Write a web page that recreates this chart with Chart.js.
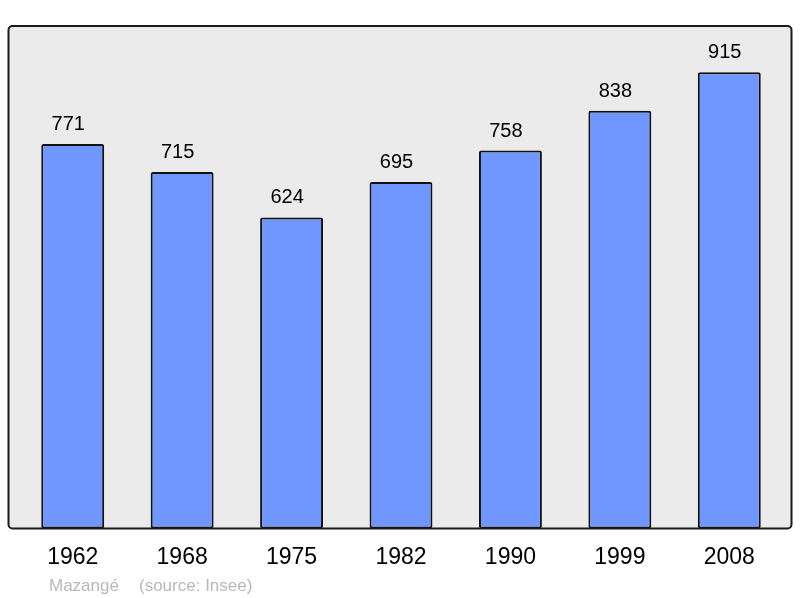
<!DOCTYPE html>
<html>
<head>
<meta charset="utf-8">
<script src="https://cdn.jsdelivr.net/npm/chart.js@4"></script>
<style>
  html, body { margin: 0; padding: 0; background: #fff; }
  #wrap { width: 800px; height: 598px; }
</style>
</head>
<body>
<div id="wrap"><canvas id="popChart" width="800" height="598"></canvas></div>
<script>
const years = ["1962", "1968", "1975", "1982", "1990", "1999", "2008"];
const population = [771, 715, 624, 695, 758, 838, 915];
const commune = "Mazangé";
const source = "(source: Insee)";

// grey panel behind the bars, outline drawn on top
const panelPlugin = {
  id: 'panel',
  beforeDatasetsDraw(chart) {
    const { ctx, chartArea } = chart;
    ctx.save();
    ctx.beginPath();
    ctx.roundRect(chartArea.left - 9.5, chartArea.top, chartArea.right - chartArea.left + 17, chartArea.bottom - chartArea.top, 4);
    ctx.fillStyle = '#ebebeb';
    ctx.fill();
    ctx.restore();
  },
  afterDatasetsDraw(chart) {
    const { ctx, chartArea } = chart;
    ctx.save();
    ctx.beginPath();
    ctx.roundRect(chartArea.left - 9.5, chartArea.top, chartArea.right - chartArea.left + 17, chartArea.bottom - chartArea.top, 4);
    ctx.lineWidth = 2;
    ctx.strokeStyle = '#1a1a1a';
    ctx.stroke();

    // values above bars
    const meta = chart.getDatasetMeta(0);
    ctx.font = '20px "Liberation Sans", Arial, sans-serif';
    ctx.fillStyle = '#000';
    ctx.textAlign = 'center';
    ctx.textBaseline = 'alphabetic';
    meta.data.forEach((bar, i) => {
      ctx.fillText(String(population[i]), bar.x - 4.5, bar.y - 14);
    });

    // footer
    ctx.font = '17px "Liberation Sans", Arial, sans-serif';
    ctx.fillStyle = '#b8b8b8';
    ctx.textAlign = 'left';
    ctx.fillText(commune, 49, 591);
    ctx.fillText(source, 139, 591);
    ctx.restore();
  }
};

new Chart(document.getElementById('popChart'), {
  type: 'bar',
  data: {
    labels: years,
    datasets: [{
      data: population,
      backgroundColor: '#7097ff',
      borderColor: '#111',
      borderWidth: 2,
      borderRadius: 2,
      borderSkipped: false,
      categoryPercentage: 1,
      barPercentage: 0.575
    }]
  },
  options: {
    responsive: false,
    animation: false,
    layout: { padding: { left: 18, right: 16, top: 26, bottom: 12 } },
    plugins: {
      legend: { display: false },
      tooltip: { enabled: false }
    },
    scales: {
      x: {
        grid: { display: false, drawTicks: false },
        border: { display: false },
        ticks: {
          color: '#000',
          padding: 15,
          font: { family: '"Liberation Sans", Arial, sans-serif', size: 23 }
        }
      },
      y: {
        display: false,
        min: 0,
        max: 1008
      }
    }
  },
  plugins: [panelPlugin]
});
</script>
</body>
</html>
